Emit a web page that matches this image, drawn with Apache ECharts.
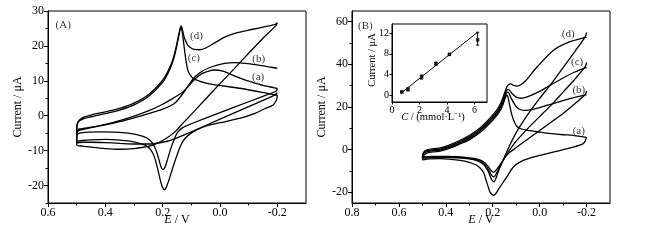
<!DOCTYPE html>
<html><head><meta charset="utf-8">
<script src="https://cdn.jsdelivr.net/npm/echarts@6/dist/echarts.min.js"></script>
<style>html,body{margin:0;padding:0;background:#fff}#c{width:646px;height:245px}</style>
</head><body><div id="c"></div>
<script>
// ---------- Panel A data: [E (V), I (uA)] ----------
const A_a_fwd = [[0.5,-5.6],[0.497,-4.6],[0.49,-4.2],[0.47,-3.8],[0.45,-3.4],[0.4,-2.5],[0.35,-1.4],[0.3,-0.1],[0.25,1.4],[0.2,3.3],[0.16,5.2],[0.13,6.8],[0.112,8.3],[0.09,10.3],[0.065,12],[0.04,12.8],[0.019,13.1],[-0.01,12.8],[-0.04,11.8],[-0.07,10.8],[-0.109,9.7],[-0.15,8.7],[-0.19,8],[-0.2,7.8]];
const A_a_rev = [[-0.2,7.8],[-0.197,7.1],[-0.19,6.8],[-0.1,4],[0,0.9],[0.1,-2.3],[0.13,-3.4],[0.148,-4.8],[0.16,-6.8],[0.172,-9.5],[0.183,-12.5],[0.192,-14.8],[0.199,-15.4],[0.206,-14.6],[0.214,-12.3],[0.224,-9.7],[0.236,-7.8],[0.255,-6.4],[0.28,-5.6],[0.32,-5],[0.37,-4.7],[0.42,-4.6],[0.46,-4.7],[0.49,-5],[0.5,-5.6]];
const A_b_fwd = [[0.5,-5.2],[0.497,-4.2],[0.49,-3.8],[0.45,-3.3],[0.4,-2.6],[0.35,-1.7],[0.3,-0.6],[0.25,0.6],[0.2,1.9],[0.158,3.6],[0.13,6.3],[0.11,8.7],[0.088,11.1],[0.065,12.6],[0.042,13.6],[0.01,14.5],[-0.016,15],[-0.05,15.2],[-0.09,15],[-0.133,14.5],[-0.17,14],[-0.2,13.6]];
const A_b_rev = [[-0.2,6.6],[-0.19,5.9],[-0.1,2.6],[0,-1],[0.1,-4.6],[0.158,-6.6],[0.2,-7.6],[0.25,-8.1],[0.3,-8.1],[0.35,-7.9],[0.4,-7.7],[0.45,-7.6],[0.48,-7.6],[0.5,-7.8],[0.5,-5.2]];
const A_c_fwd = [[0.5,-3.8],[0.497,-2],[0.49,-1.4],[0.475,-0.8],[0.45,-0.3],[0.4,0.6],[0.35,1.6],[0.3,3.1],[0.25,5.5],[0.2,9.6],[0.18,12.4],[0.165,15.4],[0.155,18.4],[0.147,21.5],[0.14,24.3],[0.136,25.2],[0.132,24.2],[0.127,21],[0.12,16.5],[0.112,13],[0.1,11.2],[0.088,10.4],[0.042,9.2],[-0.075,7.8],[-0.19,6],[-0.2,5.9]];
const A_c_rev = [[-0.2,5.9],[-0.197,4.5],[-0.185,3.1],[-0.156,2],[-0.12,0.6],[-0.075,-0.6],[0,-2],[0.042,-2.8],[0.08,-4],[0.112,-5.7],[0.13,-7.4],[0.141,-9.3],[0.158,-13.2],[0.172,-16.8],[0.184,-19.8],[0.193,-21.2],[0.2,-20.6],[0.208,-18.5],[0.218,-15],[0.228,-12],[0.24,-9.9],[0.26,-8.5],[0.3,-7.5],[0.35,-7],[0.4,-6.8],[0.45,-6.9],[0.48,-7.1],[0.5,-7.4],[0.5,-3.8]];
const A_d_fwd = [[0.5,-4.2],[0.497,-2.2],[0.49,-1.2],[0.475,-0.4],[0.45,0.2],[0.4,1.1],[0.35,2.1],[0.3,3.6],[0.25,6],[0.2,10.2],[0.18,13],[0.165,16],[0.155,19],[0.147,22],[0.14,24.8],[0.136,25.7],[0.132,25],[0.125,22.5],[0.115,20.6],[0.105,19.6],[0.09,19],[0.07,18.9],[0.05,19.4],[0.02,20.8],[-0.016,22.5],[-0.06,23.8],[-0.11,24.7],[-0.15,25.4],[-0.19,26.1],[-0.2,26.6]];
const A_d_rev = [[-0.2,26.6],[-0.195,25.8],[-0.15,22.2],[-0.1,17.9],[-0.05,13.5],[0,9.2],[0.05,4.8],[0.1,0.4],[0.13,-2.2],[0.158,-4.7],[0.19,-6.6],[0.22,-7.9],[0.25,-8.8],[0.3,-9.4],[0.35,-9.6],[0.4,-9.4],[0.45,-9],[0.48,-8.7],[0.5,-8.4],[0.5,-4.2]];
const A_labels = [["(A)",0.547,26.1],["(d)",0.082,22.7],["(c)",0.091,16.5],["(b)",-0.135,16.2],["(a)",-0.133,11]];

// ---------- Panel B data ----------
const B_a_fwd = [[0.5,-4.8],[0.495,-2.8],[0.48,-1.6],[0.45,-1],[0.424,-0.7],[0.38,0.8],[0.339,2.7],[0.3,4.6],[0.254,8],[0.22,11.5],[0.183,16],[0.165,19],[0.155,21.5],[0.148,23.8],[0.143,25.2],[0.139,25.5],[0.135,24.6],[0.13,22],[0.12,17],[0.11,13.5],[0.098,11],[0.08,9.8],[0.05,9],[0,8.2],[-0.05,7.5],[-0.1,7],[-0.143,6.7],[-0.193,5.9],[-0.2,5.8]];
const B_a_rev = [[-0.2,5.8],[-0.195,4.3],[-0.186,2.8],[-0.143,1.2],[-0.07,-0.8],[0,-2.7],[0.07,-5],[0.112,-8.1],[0.14,-12.8],[0.169,-17.5],[0.185,-20.3],[0.197,-21.4],[0.205,-20.8],[0.212,-19.8],[0.226,-15.1],[0.24,-10.5],[0.255,-8.5],[0.268,-7.3],[0.3,-5.9],[0.339,-5],[0.424,-4.2],[0.47,-4.3],[0.5,-4.8]];
const B_b_fwd = [[0.5,-3.3],[0.495,-1.8],[0.48,-0.9],[0.45,-0.4],[0.424,-0.2],[0.38,1.3],[0.339,3.2],[0.3,5.2],[0.254,8.7],[0.22,12.2],[0.183,16.8],[0.165,20],[0.155,22.6],[0.148,24.8],[0.142,26.4],[0.137,27],[0.13,26.3],[0.12,23.8],[0.1,20.2],[0.08,18.7],[0.06,18.4],[0.03,18.9],[0,19.7],[-0.05,21.3],[-0.1,23],[-0.15,24.5],[-0.2,25.8]];
const B_b_rev = [[-0.2,27.5],[-0.195,26],[-0.15,21.5],[-0.1,17],[-0.05,13],[0,9],[0.05,5],[0.1,1],[0.13,-1.5],[0.15,-4],[0.17,-7.3],[0.185,-9.5],[0.195,-10.5],[0.205,-10],[0.22,-7.8],[0.24,-5.6],[0.27,-4.3],[0.3,-3.8],[0.35,-3.3],[0.4,-3.1],[0.45,-3.1],[0.5,-3.3]];
const B_c_fwd = [[0.5,-3.6],[0.495,-1.5],[0.48,-0.5],[0.45,0],[0.424,0.3],[0.38,1.8],[0.339,3.8],[0.3,5.9],[0.254,9.4],[0.22,13],[0.183,17.6],[0.165,20.9],[0.155,23.6],[0.147,26],[0.14,27.8],[0.135,28.3],[0.128,27.8],[0.118,26.3],[0.1,24.6],[0.08,24.1],[0.05,24.9],[0,27.3],[-0.05,30.5],[-0.1,33.6],[-0.15,36.4],[-0.2,38.6]];
const B_c_rev = [[-0.2,40.9],[-0.195,39],[-0.15,33],[-0.1,27],[-0.05,21],[0,15.5],[0.05,10],[0.1,4],[0.13,-0.5],[0.15,-4],[0.17,-8],[0.185,-11.3],[0.195,-12.8],[0.205,-12],[0.22,-9],[0.24,-6.3],[0.27,-4.8],[0.3,-4.1],[0.35,-3.6],[0.4,-3.4],[0.45,-3.4],[0.5,-3.6]];
const B_d_fwd = [[0.5,-4],[0.495,-1.2],[0.48,-0.1],[0.45,0.5],[0.424,0.8],[0.38,2.4],[0.339,4.4],[0.3,6.6],[0.254,10.2],[0.22,13.8],[0.183,18.5],[0.165,22],[0.155,24.8],[0.147,27.4],[0.14,29.4],[0.132,30.6],[0.124,30.8],[0.112,30.2],[0.098,29.8],[0.084,30.2],[0.06,32.3],[0.013,38.5],[-0.058,46.5],[-0.129,50.6],[-0.193,52.6],[-0.2,52.8]];
const B_d_rev = [[-0.2,55],[-0.195,53],[-0.15,46],[-0.1,38.5],[-0.05,31],[0,24],[0.05,16.5],[0.1,8],[0.13,1.5],[0.15,-3.5],[0.17,-8.5],[0.185,-13],[0.195,-15.1],[0.205,-14],[0.22,-10],[0.24,-6.8],[0.27,-5],[0.3,-4.3],[0.35,-3.8],[0.4,-3.6],[0.45,-3.7],[0.5,-4]];
const B_labels = [["(B)",0.743,58.1],["(d)",-0.122,54.2],["(c)",-0.16,40.9],["(b)",-0.167,28],["(a)",-0.167,8.6]];

// ---------- Inset data ----------
const instC = [0.71,1.16,2.15,3.19,4.17,6.22];
const instI = [0.6,1.1,3.5,6.1,7.9,10.7];
const instLo = [0.4,0.8,3.1,5.8,7.7,9.7];
const instHi = [0.8,1.4,3.9,6.4,8.1,12.2];
const fitC = [0.67,6.22];
const fitI = [0.4,12.2];

// ---------- tick labels ----------
const A_xTicks = [0.6,0.4,0.2,0,-0.2];
const A_xMinor = [0.5,0.3,0.1,-0.1];
const A_yTicks = [-20,-10,0,10,20,30];
const A_yMinor = [-25,-15,-5,5,15,25];
const B_xTicks = [0.8,0.6,0.4,0.2,0,-0.2];
const B_xMinor = [0.7,0.5,0.3,0.1,-0.1];
const B_yTicks = [-20,0,20,40,60];
const B_yMinor = [-10,10,30,50];
const I_xTicks = [0,2,4,6];
const I_yTicks = [0,4,8,12];

const FONT = "'Liberation Serif','Times New Roman',serif";
const chart = echarts.init(document.getElementById('c'), null, {renderer:'canvas'});

function mainX(grid, min, max, ticks, nameGap){
  return {gridIndex:grid, type:'value', min:min, max:max, inverse:true, position:'bottom',
    name:'{i|E} / V', nameLocation:'middle', nameGap:nameGap, nameMoveOverlap:false,
    nameTextStyle:{fontFamily:FONT, fontSize:12, color:'#000', rich:{i:{fontStyle:'italic', fontFamily:FONT, fontSize:12, color:'#000'}}},
    axisLine:{show:true, onZero:false, lineStyle:{color:'#000', width:1}},
    axisTick:{show:true, inside:false, length:4, customValues:ticks, lineStyle:{color:'#000'}},
    axisLabel:{show:true, customValues:ticks, margin:4, fontFamily:FONT, fontSize:12, color:'#000', formatter:v=>Number(v).toFixed(1)},
    splitLine:{show:false}};
}
function minorX(grid, min, max, ticks){
  return {gridIndex:grid, type:'value', min:min, max:max, inverse:true, position:'bottom',
    axisLine:{show:false, onZero:false}, axisTick:{show:true, inside:false, length:2.5, customValues:ticks, lineStyle:{color:'#000'}},
    axisLabel:{show:false, customValues:ticks}, splitLine:{show:false}};
}
function mainY(grid, min, max, ticks, nameGap){
  return {gridIndex:grid, type:'value', min:min, max:max, position:'left',
    name:'Current / \u03bcA', nameLocation:'middle', nameGap:nameGap, nameRotate:90, nameMoveOverlap:false,
    nameTextStyle:{fontFamily:FONT, fontSize:12, color:'#000'},
    axisLine:{show:true, onZero:false, lineStyle:{color:'#000', width:1}},
    axisTick:{show:true, inside:false, length:4, customValues:ticks, lineStyle:{color:'#000'}},
    axisLabel:{show:true, customValues:ticks, margin:4, fontFamily:FONT, fontSize:12, color:'#000'},
    splitLine:{show:false}};
}
function minorY(grid, min, max, ticks){
  return {gridIndex:grid, type:'value', min:min, max:max, position:'left',
    axisLine:{show:false, onZero:false}, axisTick:{show:true, inside:false, length:2.5, customValues:ticks, lineStyle:{color:'#000'}},
    axisLabel:{show:false, customValues:ticks}, splitLine:{show:false}};
}

function curve(data, xi, yi){
  return {type:'line', data:data, xAxisIndex:xi, yAxisIndex:yi, symbol:'none', smooth:0.25,
    lineStyle:{color:'#000', width:1.3}, silent:true, animation:false, z:3};
}
function labels(arr, xi, yi, size){
  return {type:'scatter', xAxisIndex:xi, yAxisIndex:yi, symbolSize:0, animation:false, silent:true,
    data:arr.map(a=>({name:a[0], value:[a[1], a[2]]})),
    label:{show:true, position:'inside', formatter:p=>p.name, fontFamily:FONT, fontSize:size, color:'#000'}};
}

const option = {
  backgroundColor:'#fff',
  animation:false,
  grid:[
    {left:48, top:11, width:258, height:192, show:true, borderColor:'#000', borderWidth:1, backgroundColor:'rgba(0,0,0,0)'},
    {left:352, top:11, width:258, height:192, show:true, borderColor:'#000', borderWidth:1, backgroundColor:'rgba(0,0,0,0)'},
    {left:392, top:24, width:95, height:78, show:true, borderColor:'#000', borderWidth:1, backgroundColor:'#fff', z:5}
  ],
  xAxis:[
    mainX(0,-0.3,0.6,A_xTicks,11), minorX(0,-0.3,0.6,A_xMinor),
    mainX(1,-0.3,0.8,B_xTicks,11), minorX(1,-0.3,0.8,B_xMinor),
    {gridIndex:2, type:'value', min:0, max:6.9, position:'bottom', name:'{i|C} / (mmol\u00b7L\u207b\u00b9)', nameLocation:'middle', nameGap:10, nameMoveOverlap:false,
     nameTextStyle:{fontFamily:FONT, fontSize:10.5, color:'#000', padding:[0,13,0,0], rich:{i:{fontStyle:'italic', fontFamily:FONT, fontSize:10.5, color:'#000'}}},
     axisLine:{show:true, onZero:false, lineStyle:{color:'#000'}},
     axisTick:{show:true, inside:false, length:2.5, customValues:I_xTicks, lineStyle:{color:'#000'}},
     axisLabel:{show:true, customValues:I_xTicks, margin:3, fontFamily:FONT, fontSize:10, color:'#000'}, splitLine:{show:false}, z:6}
  ],
  yAxis:[
    mainY(0,-25,30,A_yTicks,24), minorY(0,-25,30,A_yMinor),
    mainY(1,-25,65,B_yTicks,24), minorY(1,-25,65,B_yMinor),
    {gridIndex:2, type:'value', min:-1.35, max:13.8, position:'left', name:'Current / \u03bcA', nameLocation:'middle', nameGap:14, nameRotate:90, nameMoveOverlap:false,
     nameTextStyle:{fontFamily:FONT, fontSize:10.5, color:'#000', padding:[0,0,0,6]},
     axisLine:{show:true, onZero:false, lineStyle:{color:'#000'}},
     axisTick:{show:true, inside:false, length:2.5, customValues:I_yTicks, lineStyle:{color:'#000'}},
     axisLabel:{show:true, customValues:I_yTicks, margin:3, fontFamily:FONT, fontSize:10, color:'#000'}, splitLine:{show:false}, z:6}
  ],
  series:[
    curve(A_a_fwd,0,0), curve(A_a_rev,0,0), curve(A_b_fwd,0,0), curve(A_b_rev,0,0),
    curve(A_c_fwd,0,0), curve(A_c_rev,0,0), curve(A_d_fwd,0,0), curve(A_d_rev,0,0),
    labels(A_labels,0,0,11),
    curve(B_a_fwd,2,2), curve(B_a_rev,2,2), curve(B_b_fwd,2,2), curve(B_b_rev,2,2),
    curve(B_c_fwd,2,2), curve(B_c_rev,2,2), curve(B_d_fwd,2,2), curve(B_d_rev,2,2),
    labels(B_labels,2,2,11),
    {type:'line', xAxisIndex:4, yAxisIndex:4, data:fitC.map((c,i)=>[c, fitI[i]]), symbol:'none',
     lineStyle:{color:'#000', width:1}, z:7, animation:false},
    {type:'custom', xAxisIndex:4, yAxisIndex:4, z:7, animation:false,
     data:instC.map((c,i)=>[c, instLo[i], instHi[i]]),
     renderItem:function(params, api){
       const x = api.value(0);
       const p1 = api.coord([x, api.value(1)]);
       const p2 = api.coord([x, api.value(2)]);
       const st = {stroke:'#000', lineWidth:1};
       return {type:'group', children:[
         {type:'line', shape:{x1:p1[0], y1:p1[1], x2:p2[0], y2:p2[1]}, style:st},
         {type:'line', shape:{x1:p1[0]-1.5, y1:p1[1], x2:p1[0]+1.5, y2:p1[1]}, style:st},
         {type:'line', shape:{x1:p2[0]-1.5, y1:p2[1], x2:p2[0]+1.5, y2:p2[1]}, style:st}
       ]};
     }},
    {type:'scatter', xAxisIndex:4, yAxisIndex:4, data:instC.map((c,i)=>[c, instI[i]]), symbol:'rect', symbolSize:3.5,
     itemStyle:{color:'#000'}, z:8, animation:false}
  ]
};
chart.setOption(option);
</script></body></html>
